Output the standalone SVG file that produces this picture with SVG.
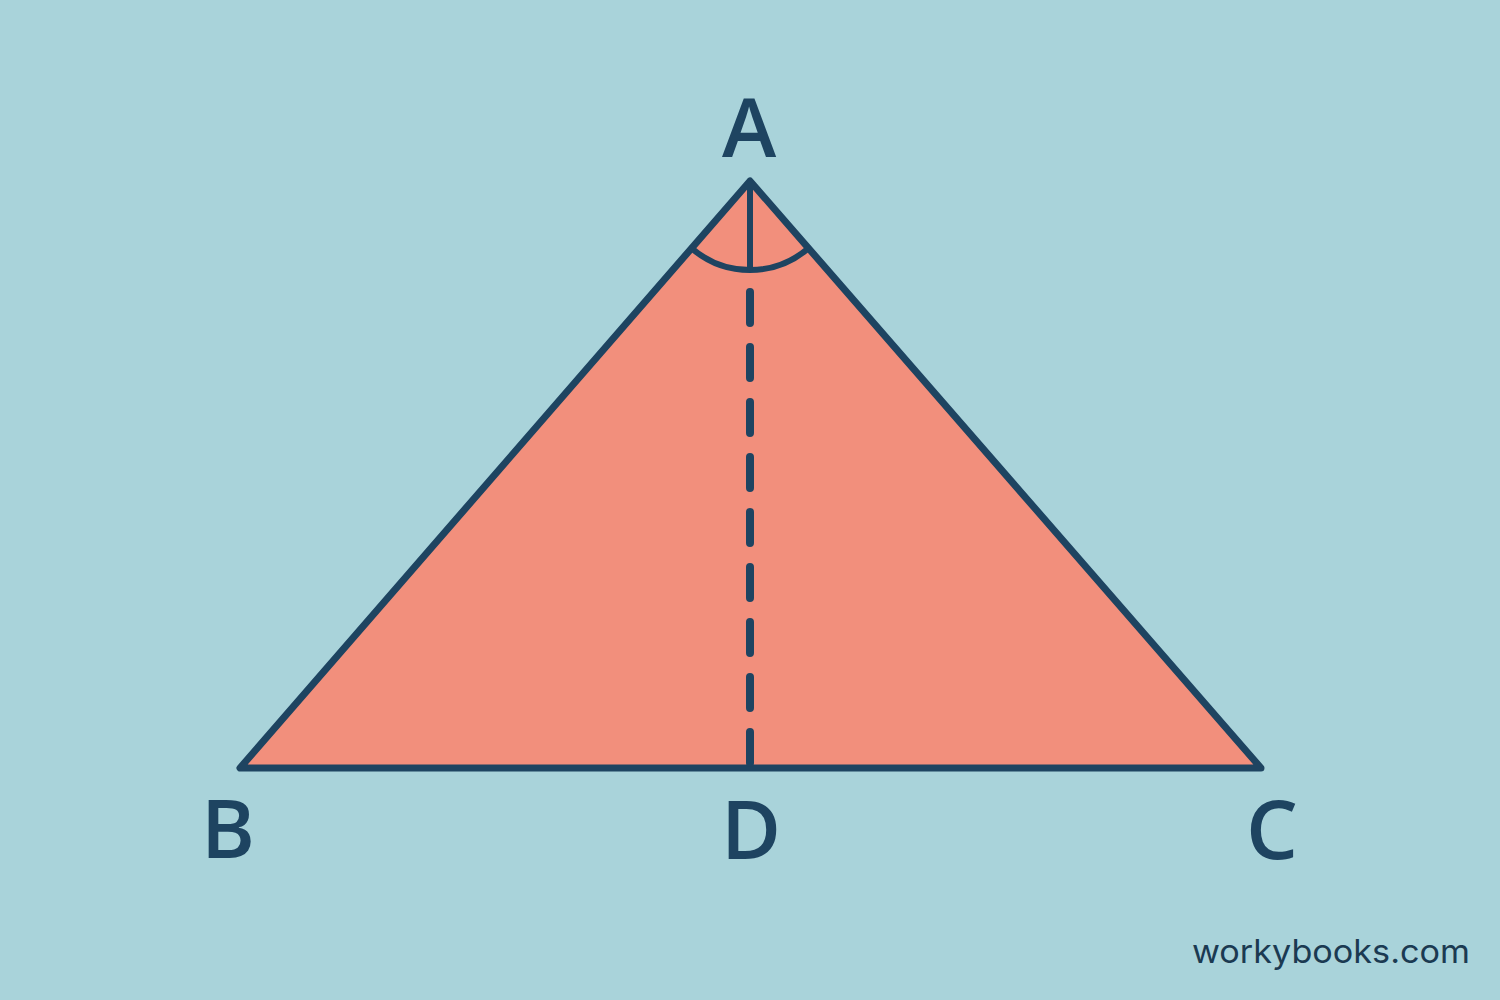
<svg xmlns="http://www.w3.org/2000/svg" width="1500" height="1000" viewBox="0 0 1500 1000">
  <style>
    .edge { fill: none; stroke: #1E4461; stroke-linecap: round; stroke-linejoin: round; }
    .lbl { font-family: "Open Sans", "Liberation Sans", sans-serif; font-weight: 600; font-size: 82px; fill: #1E4461; text-anchor: middle; }
    .brand { font-family: "Inter", "Liberation Sans", sans-serif; font-size: 33px; fill: #1B3A52; }
  </style>
  <rect x="0" y="0" width="1500" height="1000" fill="#A9D3DA"/>
  <g id="triangle">
    <polygon points="750,181 240,768 1261,768" fill="#F28F7C" stroke="#1E4461" stroke-width="7" stroke-linejoin="round"/>
  </g>
  <g id="connectors">
    <path id="angle-arc" class="edge" stroke-width="6" d="M 691.6 248.2 A 89 89 0 0 0 808.4 248.2"/>
    <line id="bisector-top" class="edge" stroke-width="6" x1="750" y1="183" x2="750" y2="268"/>
    <line id="altitude-AD" class="edge" stroke-width="8" x1="750" y1="292" x2="750" y2="768" stroke-dasharray="31 24"/>
  </g>
  <g id="node-A"><text class="lbl" x="749" y="157">A</text></g>
  <g id="node-B"><text class="lbl" x="228" y="858">B</text></g>
  <g id="node-D"><text class="lbl" x="751" y="859">D</text></g>
  <g id="node-C"><text class="lbl" x="1272" y="859">C</text></g>
  <g id="brand"><text class="brand" x="1192" y="963" textLength="278" lengthAdjust="spacingAndGlyphs">workybooks.com</text></g>
</svg>
